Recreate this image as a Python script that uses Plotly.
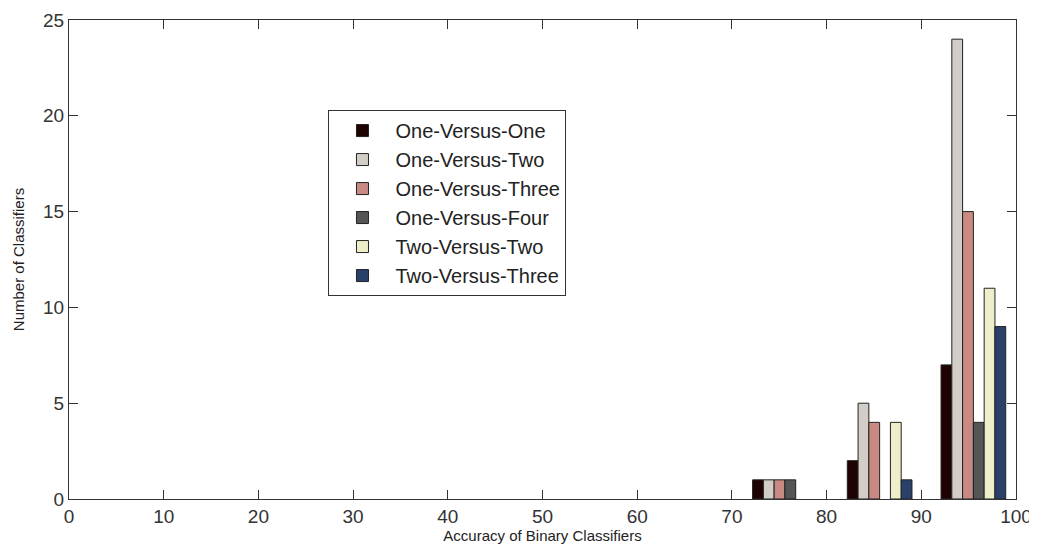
import plotly.graph_objects as go

bin_centers = [75.6, 85.6, 95.5]
series_names = ["One-Versus-One", "One-Versus-Two", "One-Versus-Three",
                "One-Versus-Four", "Two-Versus-Two", "Two-Versus-Three"]
one_vs_one = [1, 2, 7]
one_vs_two = [1, 5, 24]
one_vs_three = [1, 4, 15]
one_vs_four = [1, 0, 4]
two_vs_two = [0, 4, 11]
two_vs_three = [0, 1, 9]
series_values = [one_vs_one, one_vs_two, one_vs_three, one_vs_four, two_vs_two, two_vs_three]
colors = ["#1e0202", "#d2cdc6", "#c98a84", "#555555", "#eeeecb", "#29406a"]

x_ticks = list(range(0, 101, 10))
y_ticks = list(range(0, 26, 5))

font = "Liberation Sans, Arial, sans-serif"

fig = go.Figure()
for i, (name, vals, col) in enumerate(zip(series_names, series_values, colors)):
    fig.add_trace(go.Bar(
        x=bin_centers, y=[v if v else None for v in vals], name=name,
        legendgroup=f"g{i}",
        marker=dict(color=col, line=dict(color="#222222", width=1)),
    ))

# page body has an 8px default margin, so the figure is sized to compensate
fig.update_layout(
    width=1029, height=544,
    margin=dict(l=61, r=21, t=12, b=53, autoexpand=False),
    paper_bgcolor="white", plot_bgcolor="white",
    barmode="group", bargap=0.31, bargroupgap=0,
    font=dict(family=font, color="#222222"),
    showlegend=True,
    legend=dict(
        x=0.274, y=0.812, xanchor="left", yanchor="top",
        bordercolor="#333333", borderwidth=1, bgcolor="white",
        font=dict(size=20, family=font, color="#222222"),
        tracegroupgap=0, itemwidth=56,
    ),
)
fig.update_xaxes(
    range=[0, 100], tickvals=x_ticks, ticktext=[str(v) for v in x_ticks],
    ticks="inside", ticklen=9, tickcolor="#333333",
    showline=True, linecolor="#333333", linewidth=1, mirror="ticks",
    showgrid=False, zeroline=False, automargin=False,
    tickfont=dict(size=19, family=font, color="#333333"),
    title=dict(text="Accuracy of Binary Classifiers", standoff=2,
               font=dict(size=15, family=font, color="#222222")),
)
fig.update_yaxes(
    range=[0, 25], tickvals=y_ticks, ticktext=[str(v) for v in y_ticks],
    ticks="inside", ticklen=9, tickcolor="#333333",
    showline=True, linecolor="#333333", linewidth=1, mirror="ticks",
    showgrid=False, zeroline=False, automargin=False,
    tickfont=dict(size=19, family=font, color="#333333"),
    title=dict(text="Number of Classifiers", standoff=14,
               font=dict(size=15, family=font, color="#222222")),
)

fig.write_html("out.html")
